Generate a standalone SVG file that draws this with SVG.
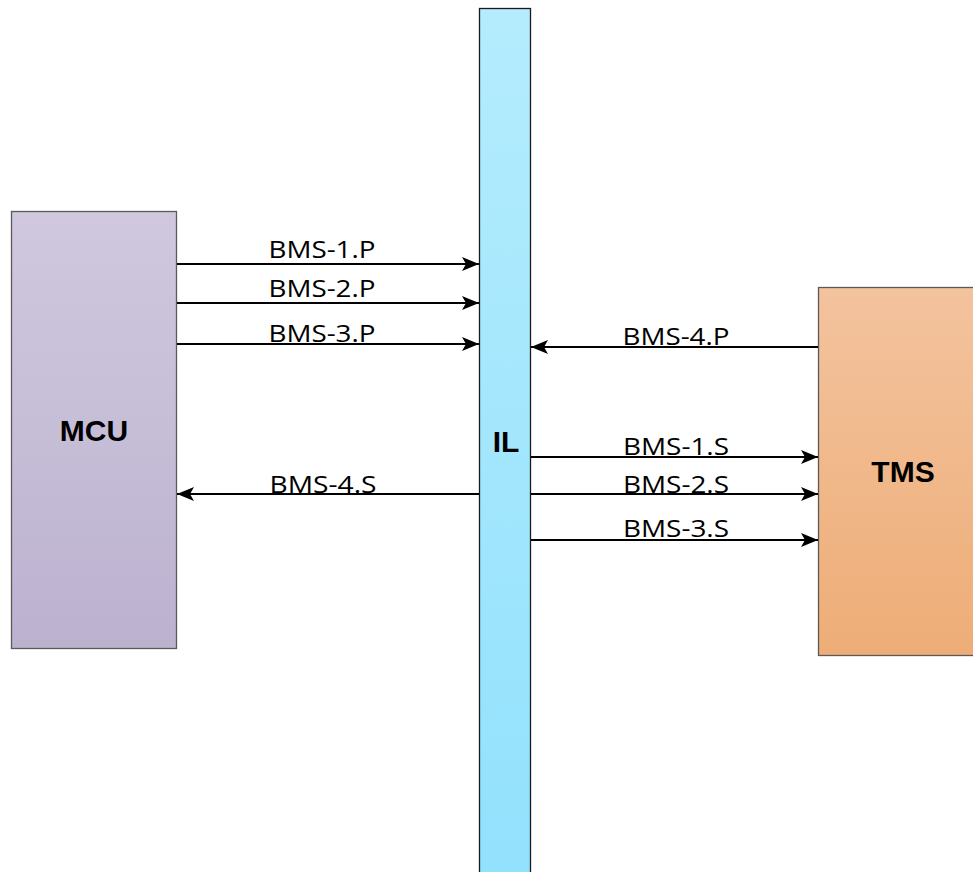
<svg xmlns="http://www.w3.org/2000/svg" width="973" height="872" viewBox="0 0 973 872">
<defs>
<linearGradient id="gMcu" x1="0" y1="0" x2="0" y2="1"><stop offset="0" stop-color="#D0C8DE"/><stop offset="1" stop-color="#BCB2D0"/></linearGradient>
<linearGradient id="gIl" x1="0" y1="0" x2="0" y2="1"><stop offset="0" stop-color="#B4ECFD"/><stop offset="1" stop-color="#92E1FD"/></linearGradient>
<linearGradient id="gTms" x1="0" y1="0" x2="0" y2="1"><stop offset="0" stop-color="#F3C39E"/><stop offset="1" stop-color="#EEAD77"/></linearGradient>
<marker id="ah" markerWidth="17" markerHeight="14" refX="17" refY="7" orient="auto" markerUnits="userSpaceOnUse"><path d="M0,0 L17,7 L0,14 L4,7 Z" fill="#000"/></marker>
</defs>
<style>
.lbl{font-family:"Open Sans","Liberation Sans",Arial,sans-serif;font-size:24px;fill:#000;text-anchor:middle}
.big{font-family:"Liberation Sans",Arial,sans-serif;font-size:30px;font-weight:bold;fill:#000;text-anchor:middle}
.c{stroke:#000;stroke-width:2;fill:none;marker-end:url(#ah)}
</style>
<rect width="973" height="872" fill="#fff"/>
<g id="MCU"><rect x="11.5" y="211.5" width="165" height="437" fill="url(#gMcu)" stroke="#5a5a5a" stroke-width="1.3"/><text class="big" x="94" y="441">MCU</text></g>
<g id="IL"><rect x="479.5" y="8.5" width="51" height="870" fill="url(#gIl)" stroke="#1a1a1a" stroke-width="1.3"/><text class="big" x="506" y="452">IL</text></g>
<g id="TMS"><rect x="818.5" y="287.5" width="160" height="368" fill="url(#gTms)" stroke="#5a5a5a" stroke-width="1.3"/><text class="big" x="903" y="482">TMS</text></g>
<g id="connectors">
<line class="c" x1="177" y1="264" x2="479" y2="264"/>
<line class="c" x1="177" y1="303" x2="479" y2="303"/>
<line class="c" x1="177" y1="344" x2="479" y2="344"/>
<line class="c" x1="818" y1="347" x2="531" y2="347"/>
<line class="c" x1="479" y1="494" x2="177" y2="494"/>
<line class="c" x1="531" y1="457" x2="818" y2="457"/>
<line class="c" x1="531" y1="494" x2="818" y2="494"/>
<line class="c" x1="531" y1="540" x2="818" y2="540"/>
<text class="lbl" x="322" y="258" textLength="107" lengthAdjust="spacingAndGlyphs">BMS-1.P</text>
<text class="lbl" x="322" y="297" textLength="107" lengthAdjust="spacingAndGlyphs">BMS-2.P</text>
<text class="lbl" x="322" y="342" textLength="107" lengthAdjust="spacingAndGlyphs">BMS-3.P</text>
<text class="lbl" x="676" y="345" textLength="107" lengthAdjust="spacingAndGlyphs">BMS-4.P</text>
<text class="lbl" x="323" y="493" textLength="107" lengthAdjust="spacingAndGlyphs">BMS-4.S</text>
<text class="lbl" x="676" y="455" textLength="106" lengthAdjust="spacingAndGlyphs">BMS-1.S</text>
<text class="lbl" x="676" y="493" textLength="106" lengthAdjust="spacingAndGlyphs">BMS-2.S</text>
<text class="lbl" x="676" y="537" textLength="106" lengthAdjust="spacingAndGlyphs">BMS-3.S</text>
</g>
</svg>
